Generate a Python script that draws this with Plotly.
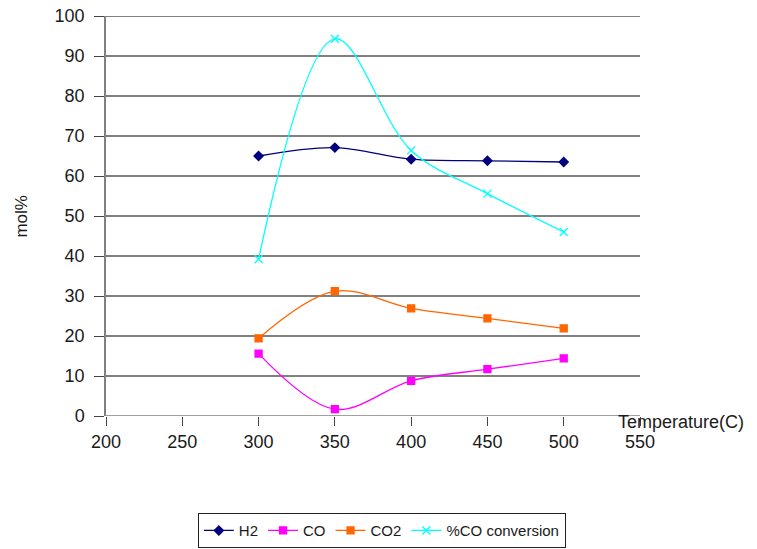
import plotly.graph_objects as go

temperature = [300, 350, 400, 450, 500]
h2 = [65.0, 67.1, 64.2, 63.8, 63.5]
co = [15.6, 1.7, 8.8, 11.7, 14.4]
co2 = [19.4, 31.2, 26.9, 24.4, 21.9]
co_conversion = [39.2, 94.3, 66.4, 55.6, 46.0]

x_ticks = [200, 250, 300, 350, 400, 450, 500, 550]
y_ticks = [0, 10, 20, 30, 40, 50, 60, 70, 80, 90, 100]

FONT = "Liberation Sans, Arial, sans-serif"

fig = go.Figure()
series = [
    ("H2", h2, "#000080", "diamond", 7),
    ("CO", co, "#FF00FF", "square", 7),
    ("CO2", co2, "#FF6600", "square", 7),
    ("%CO conversion", co_conversion, "#00FFFF", "x-thin-open", 8),
]
for name, vals, color, sym, size in series:
    fig.add_trace(go.Scatter(
        x=temperature, y=vals, name=name, mode="lines+markers",
        line=dict(color=color, width=1.3, shape="spline", smoothing=1.0),
        marker=dict(symbol=sym, size=size, color=color,
                    line=dict(color=color, width=1.3)),
    ))

# horizontal gridlines (excluding 0, which is the x-axis line)
for v in y_ticks[1:]:
    fig.add_shape(type="line", xref="x", yref="y", x0=x_ticks[0], x1=x_ticks[-1],
                  y0=v, y1=v, line=dict(color="#808080", width=2), layer="below")
# x-axis line
fig.add_shape(type="line", xref="x", yref="y", x0=x_ticks[0], x1=x_ticks[-1],
              y0=0, y1=0, line=dict(color="#808080", width=1.5), layer="below")

fig.update_layout(
    width=757, height=549,
    margin=dict(l=106, r=117, t=16, b=133, autoexpand=False),
    paper_bgcolor="white", plot_bgcolor="white",
    font=dict(family=FONT, size=18, color="#1a1a1a"),
    showlegend=True,
    legend=dict(orientation="h", x=0.172, y=-0.243, xanchor="left", yanchor="top",
                bordercolor="#222222", borderwidth=1, font=dict(size=15),
                itemwidth=30, tracegroupgap=0),
    xaxis=dict(range=[200, 550], tickvals=x_ticks, showgrid=False, zeroline=False,
               showline=False, ticks="outside", ticklen=9, tickcolor="#444444",
               tickwidth=1.3, ticklabelstandoff=0, fixedrange=True),
    yaxis=dict(range=[0, 100], tickvals=y_ticks, showgrid=False, zeroline=False,
               showline=True, linecolor="#808080", linewidth=1.5,
               ticks="outside", ticklen=10, tickcolor="#444444", tickwidth=1.3,
               ticklabelstandoff=6, fixedrange=True),
    annotations=[
        dict(text="Temperature(C)", xref="paper", yref="paper", x=0.955, y=-0.014,
             xanchor="left", yanchor="middle", showarrow=False, font=dict(size=18)),
        dict(text="mol%", xref="paper", yref="paper", x=-0.16, y=0.5,
             xanchor="center", yanchor="middle", textangle=-90, showarrow=False,
             font=dict(size=17)),
    ],
)

fig.write_html("out.html")
